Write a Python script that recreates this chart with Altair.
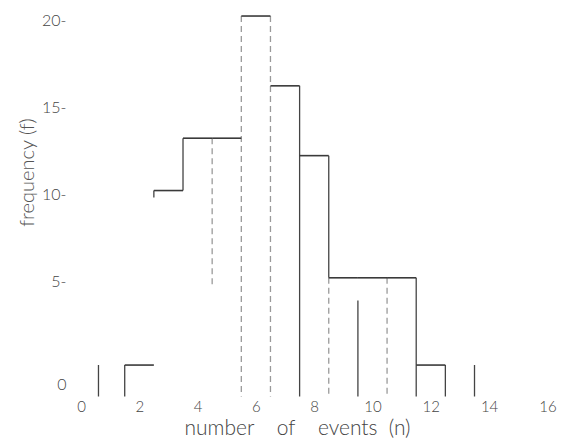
import altair as alt
import pandas as pd

# Histogram (bins centred on integers, width 1)
bin_centers = [2, 3, 4, 5, 6, 7, 8, 9, 10, 11, 12]
frequencies = [0, 10, 13, 13, 20, 16, 12, 5, 5, 5, 0]

# Vertical strokes of the drawing: edge position, top and bottom value, style
edge_x      = [0.6, 1.5, 2.5, 3.5, 4.5, 5.5, 6.5, 7.5, 8.5, 8.5, 9.5, 10.5, 11.5, 12.5, 13.5]
edge_top    = [0.0, 0.0, 10.0, 13.0, 13.0, 20.0, 20.0, 16.0, 12.0, 5.0, 3.7, 5.0, 5.0, 0.0, 0.0]
edge_bottom = [-1.8, -1.8, 9.6, 10.0, 4.5, -1.8, -1.8, -1.8, 5.0, -1.8, -1.8, -1.8, -1.8, -1.8, -1.8]
edge_style  = ["solid", "solid", "solid", "solid", "dashed", "dashed", "dashed", "solid",
               "solid", "dashed", "solid", "dashed", "solid", "solid", "solid"]

x_ticks = [0, 2, 4, 6, 8, 10, 12, 14, 16]
y_ticks = [0, 5, 10, 15, 20]

tops = pd.DataFrame({
    "lo": [c - 0.5 for c in bin_centers],
    "hi": [c + 0.5 for c in bin_centers],
    "f": frequencies,
})
edges = pd.DataFrame({"x": edge_x, "top": edge_top, "bottom": edge_bottom, "style": edge_style})

FONT = "Lato"
INK = "#3a3a3a"
NB = "\u00a0"

xscale = alt.Scale(domain=[-0.377, 16.33], nice=False, zero=False)
yscale = alt.Scale(domain=[-1.83, 20.46], nice=False, zero=False)

xaxis = alt.Axis(
    values=x_ticks,
    title=f"number{NB*4}of{NB*4}events{NB*2}(n)",
    domain=False, ticks=False, grid=False,
    labelFont=FONT, labelFontSize=15, labelFontWeight=300, labelColor="#444",
    labelPadding=2, titleFont=FONT, titleFontSize=21, titleFontWeight=300,
    titleColor="#444", titleX=227, titleY=37, titleBaseline="alphabetic", labelFlush=False,
)
yaxis = alt.Axis(
    values=y_ticks, title="frequency (f)", domain=False, ticks=False, grid=False,
    labelExpr="datum.value == 0 ? '0  ' : datum.label + '-'",
    labelOffset={"condition": {"test": "datum.value == 0", "value": 19}, "value": 4},
    labelFont=FONT, labelFontSize=16, labelFontWeight=300, labelColor="#444",
    labelPadding=4, titleFont=FONT, titleFontSize=20, titleFontWeight=300,
    titleColor="#555", titleX=-33, titleY=164,
)

top_layer = alt.Chart(tops).mark_rule(strokeWidth=1.6, color=INK).encode(
    x=alt.X("lo:Q", scale=xscale, axis=xaxis),
    x2="hi:Q",
    y=alt.Y("f:Q", scale=yscale, axis=yaxis),
)

edge_layer = alt.Chart(edges).mark_rule(strokeWidth=1.3).encode(
    x=alt.X("x:Q", scale=xscale),
    y=alt.Y("top:Q", scale=yscale),
    y2="bottom:Q",
    color=alt.Color("style:N", scale=alt.Scale(domain=["solid", "dashed"], range=["#444", "#9a9a9a"]), legend=None),
    strokeDash=alt.StrokeDash("style:N", scale=alt.Scale(domain=["solid", "dashed"], range=[[1, 0], [6, 4]]), legend=None),
)

chart = alt.layer(edge_layer, top_layer).properties(
    width=487,
    height=389,
    autosize=alt.AutoSizeParams(type="none"),
    padding={"left": 62, "top": 0, "right": 0, "bottom": 41},
).configure(
    background="white",
    view=alt.ViewConfig(stroke=None),
)

chart.save("out.html", embed_options={"renderer": "svg", "actions": False})
